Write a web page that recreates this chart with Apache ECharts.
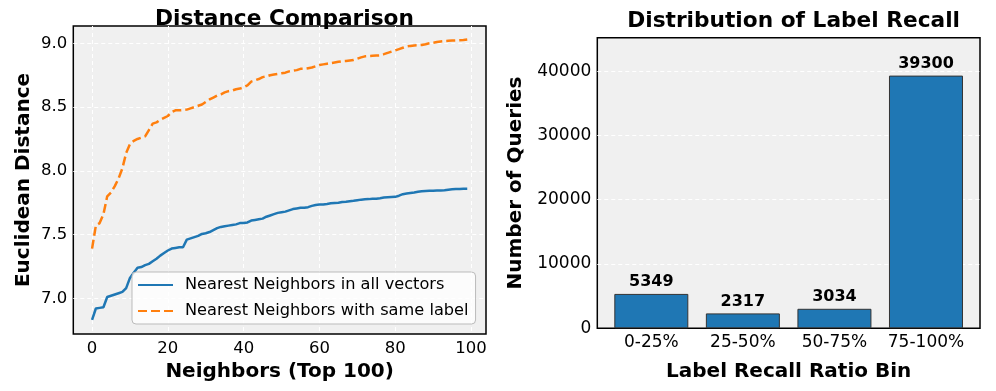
<!DOCTYPE html>
<html>
<head>
<meta charset="utf-8">
<script src="https://cdn.jsdelivr.net/npm/echarts@6/dist/echarts.min.js"></script>
<style>
html,body{margin:0;padding:0;background:#fff;}
#chart{width:996px;height:391px;}
</style>
</head>
<body>
<div id="chart"></div>
<script>
// ---- data ----
const neighborIdx = [0,1,2,3,4,5,6,7,8,9,10,11,12,13,14,15,16,17,18,19,20,21,22,23,24,25,26,27,28,29,30,31,32,33,34,35,36,37,38,39,40,41,42,43,44,45,46,47,48,49,50,51,52,53,54,55,56,57,58,59,60,61,62,63,64,65,66,67,68,69,70,71,72,73,74,75,76,77,78,79,80,81,82,83,84,85,86,87,88,89,90,91,92,93,94,95,96,97,98,99];
const nnAll = [6.83,6.92,6.925,6.93,7.01,7.02,7.03,7.04,7.05,7.08,
  7.16,7.20,7.24,7.245,7.26,7.27,7.29,7.31,7.335,7.355,
  7.375,7.39,7.395,7.40,7.40,7.46,7.47,7.48,7.49,7.505,
  7.51,7.52,7.535,7.55,7.56,7.565,7.57,7.575,7.58,7.59,
  7.59,7.595,7.61,7.615,7.62,7.625,7.64,7.65,7.66,7.67,
  7.675,7.68,7.69,7.70,7.705,7.71,7.71,7.715,7.725,7.732,
  7.735,7.736,7.74,7.745,7.748,7.75,7.755,7.758,7.762,7.765,
  7.77,7.774,7.777,7.778,7.78,7.781,7.785,7.79,7.792,7.794,
  7.796,7.805,7.817,7.822,7.826,7.83,7.835,7.839,7.842,7.843,
  7.844,7.845,7.846,7.848,7.852,7.855,7.857,7.858,7.86,7.86];
const nnSame = [7.39,7.57,7.59,7.66,7.80,7.83,7.88,7.94,8.02,8.14,
  8.21,8.235,8.25,8.26,8.27,8.32,8.37,8.38,8.40,8.415,
  8.43,8.46,8.475,8.475,8.477,8.48,8.49,8.50,8.51,8.52,
  8.54,8.56,8.575,8.59,8.60,8.615,8.625,8.63,8.64,8.645,
  8.655,8.67,8.70,8.71,8.72,8.735,8.74,8.75,8.755,8.76,
  8.765,8.77,8.78,8.785,8.79,8.80,8.80,8.805,8.81,8.82,
  8.83,8.835,8.84,8.845,8.85,8.855,8.86,8.862,8.866,8.87,
  8.88,8.89,8.898,8.90,8.902,8.904,8.906,8.915,8.925,8.935,
  8.945,8.955,8.965,8.975,8.98,8.983,8.985,8.987,8.993,9.0,
  9.005,9.01,9.015,9.018,9.02,9.022,9.023,9.024,9.026,9.03];
const seriesNames = ['Nearest Neighbors in all vectors', 'Nearest Neighbors with same label'];
const leftXTicks = [0,20,40,60,80,100];
const leftYTicks = [7.0,7.5,8.0,8.5,9.0];

const binCategories = ['0-25%','25-50%','50-75%','75-100%'];
const binCounts = [5349, 2317, 3034, 39300];
const rightYTicks = [0,10000,20000,30000,40000];
const rightYGridTicks = [10000,20000,30000,40000];

// ---- build ----
const FONT = 'DejaVu Sans';
const lineAll = neighborIdx.map((x,i)=>[x, nnAll[i]]);
const lineSame = neighborIdx.map((x,i)=>[x, nnSame[i]]);
const barData = binCounts.map((v,i)=>[i, v]);

const gridLineStyle = {color:'#ffffff', type:[4,3], width:1};
const tickFont = {fontFamily:FONT, color:'#000'};

const chart = echarts.init(document.getElementById('chart'), null, {renderer:'canvas'});
chart.setOption({
  animation:false,
  backgroundColor:'#ffffff',
  textStyle:{fontFamily:FONT},
  title:[
    {text:'Distance Comparison', left:279.5, textAlign:'center', top:3,
     textStyle:{fontFamily:FONT, fontWeight:'bold', fontSize:21.7, color:'#000'}},
    {text:'Distribution of Label Recall', left:788.6, textAlign:'center', top:5,
     textStyle:{fontFamily:FONT, fontWeight:'bold', fontSize:21.7, color:'#000'}}
  ],
  grid:[
    {left:73.3, top:26, width:412.7, height:308, show:true, backgroundColor:'#f0f0f0',
     borderColor:'#000', borderWidth:1.5, containLabel:false, outerBoundsMode:'none'},
    {left:597.3, top:37.7, width:382.7, height:290.6, show:true, backgroundColor:'#f0f0f0',
     borderColor:'#000', borderWidth:1.5, containLabel:false, outerBoundsMode:'none'}
  ],
  legend:{
    data:seriesNames, orient:'vertical', left:132, top:272,
    itemWidth:35, itemHeight:14, itemGap:10,
    padding:[5,7,5,5],
    itemStyle:{opacity:0},
    backgroundColor:'rgba(255,255,255,0.8)', borderColor:'#bbbbbb', borderWidth:1, borderRadius:4,
    textStyle:{fontFamily:FONT, fontSize:16.2, color:'#000', padding:[0,0,0,7]}
  },
  xAxis:[
    {type:'value', gridIndex:0, min:-4.95, max:103.95,
     name:'Neighbors (Top 100)', nameLocation:'middle', nameGap:28,
     nameTextStyle:{fontFamily:FONT, fontWeight:'bold', fontSize:20, color:'#000'},
     axisLine:{show:false}, axisTick:{show:false, customValues:leftXTicks},
     axisLabel:Object.assign({customValues:leftXTicks, fontSize:16.5, margin:6}, tickFont),
     splitLine:{show:true, lineStyle:gridLineStyle}},
    {type:'value', gridIndex:1, min:-0.59, max:3.59,
     name:'Label Recall Ratio Bin', nameLocation:'middle', nameGap:33,
     nameTextStyle:{fontFamily:FONT, fontWeight:'bold', fontSize:20, color:'#000'},
     axisLine:{show:false}, axisTick:{show:false, customValues:[0,1,2,3]},
     axisLabel:Object.assign({customValues:[0,1,2,3], fontSize:17, margin:6,
       formatter:(v)=>binCategories[Math.round(v)]}, tickFont),
     splitLine:{show:false}}
  ],
  yAxis:[
    {type:'value', gridIndex:0, min:6.72, max:9.136,
     name:'Euclidean Distance', nameLocation:'middle', nameGap:40,
     nameTextStyle:{fontFamily:FONT, fontWeight:'bold', fontSize:20, color:'#000'},
     axisLine:{show:false}, axisTick:{show:false, customValues:leftYTicks},
     axisLabel:Object.assign({customValues:leftYTicks, fontSize:16.5, margin:6,
       formatter:(v)=>v.toFixed(1)}, tickFont),
     splitLine:{show:true, lineStyle:gridLineStyle}},
    {type:'value', gridIndex:1, min:0, max:45195,
     name:'Number of Queries', nameLocation:'middle', nameGap:72,
     nameTextStyle:{fontFamily:FONT, fontWeight:'bold', fontSize:20, color:'#000'},
     axisLine:{show:false}, axisTick:{show:false, customValues:rightYGridTicks},
     axisLabel:Object.assign({customValues:rightYTicks, fontSize:17, margin:6,
       formatter:(v)=>String(Math.round(v))}, tickFont),
     splitLine:{show:true, lineStyle:gridLineStyle}}
  ],
  series:[
    {name:seriesNames[0], type:'line', xAxisIndex:0, yAxisIndex:0, data:lineAll,
     symbol:'none', lineStyle:{color:'#1f77b4', width:2.5}, itemStyle:{color:'#1f77b4'}, z:3},
    {name:seriesNames[1], type:'line', xAxisIndex:0, yAxisIndex:0, data:lineSame,
     symbol:'none', lineStyle:{color:'#ff7f0e', width:2.5, type:[9,4]}, itemStyle:{color:'#ff7f0e'}, z:3},
    {name:'Queries', type:'bar', xAxisIndex:1, yAxisIndex:1, data:barData, barWidth:74,
     itemStyle:{color:'#1f77b4', borderColor:'#333333', borderWidth:1},
     label:{show:true, position:'top', distance:4, fontFamily:FONT, fontWeight:'bold', fontSize:16, color:'#000',
       formatter:(p)=>String(p.value[1])}}
  ]
});
</script>
</body>
</html>
